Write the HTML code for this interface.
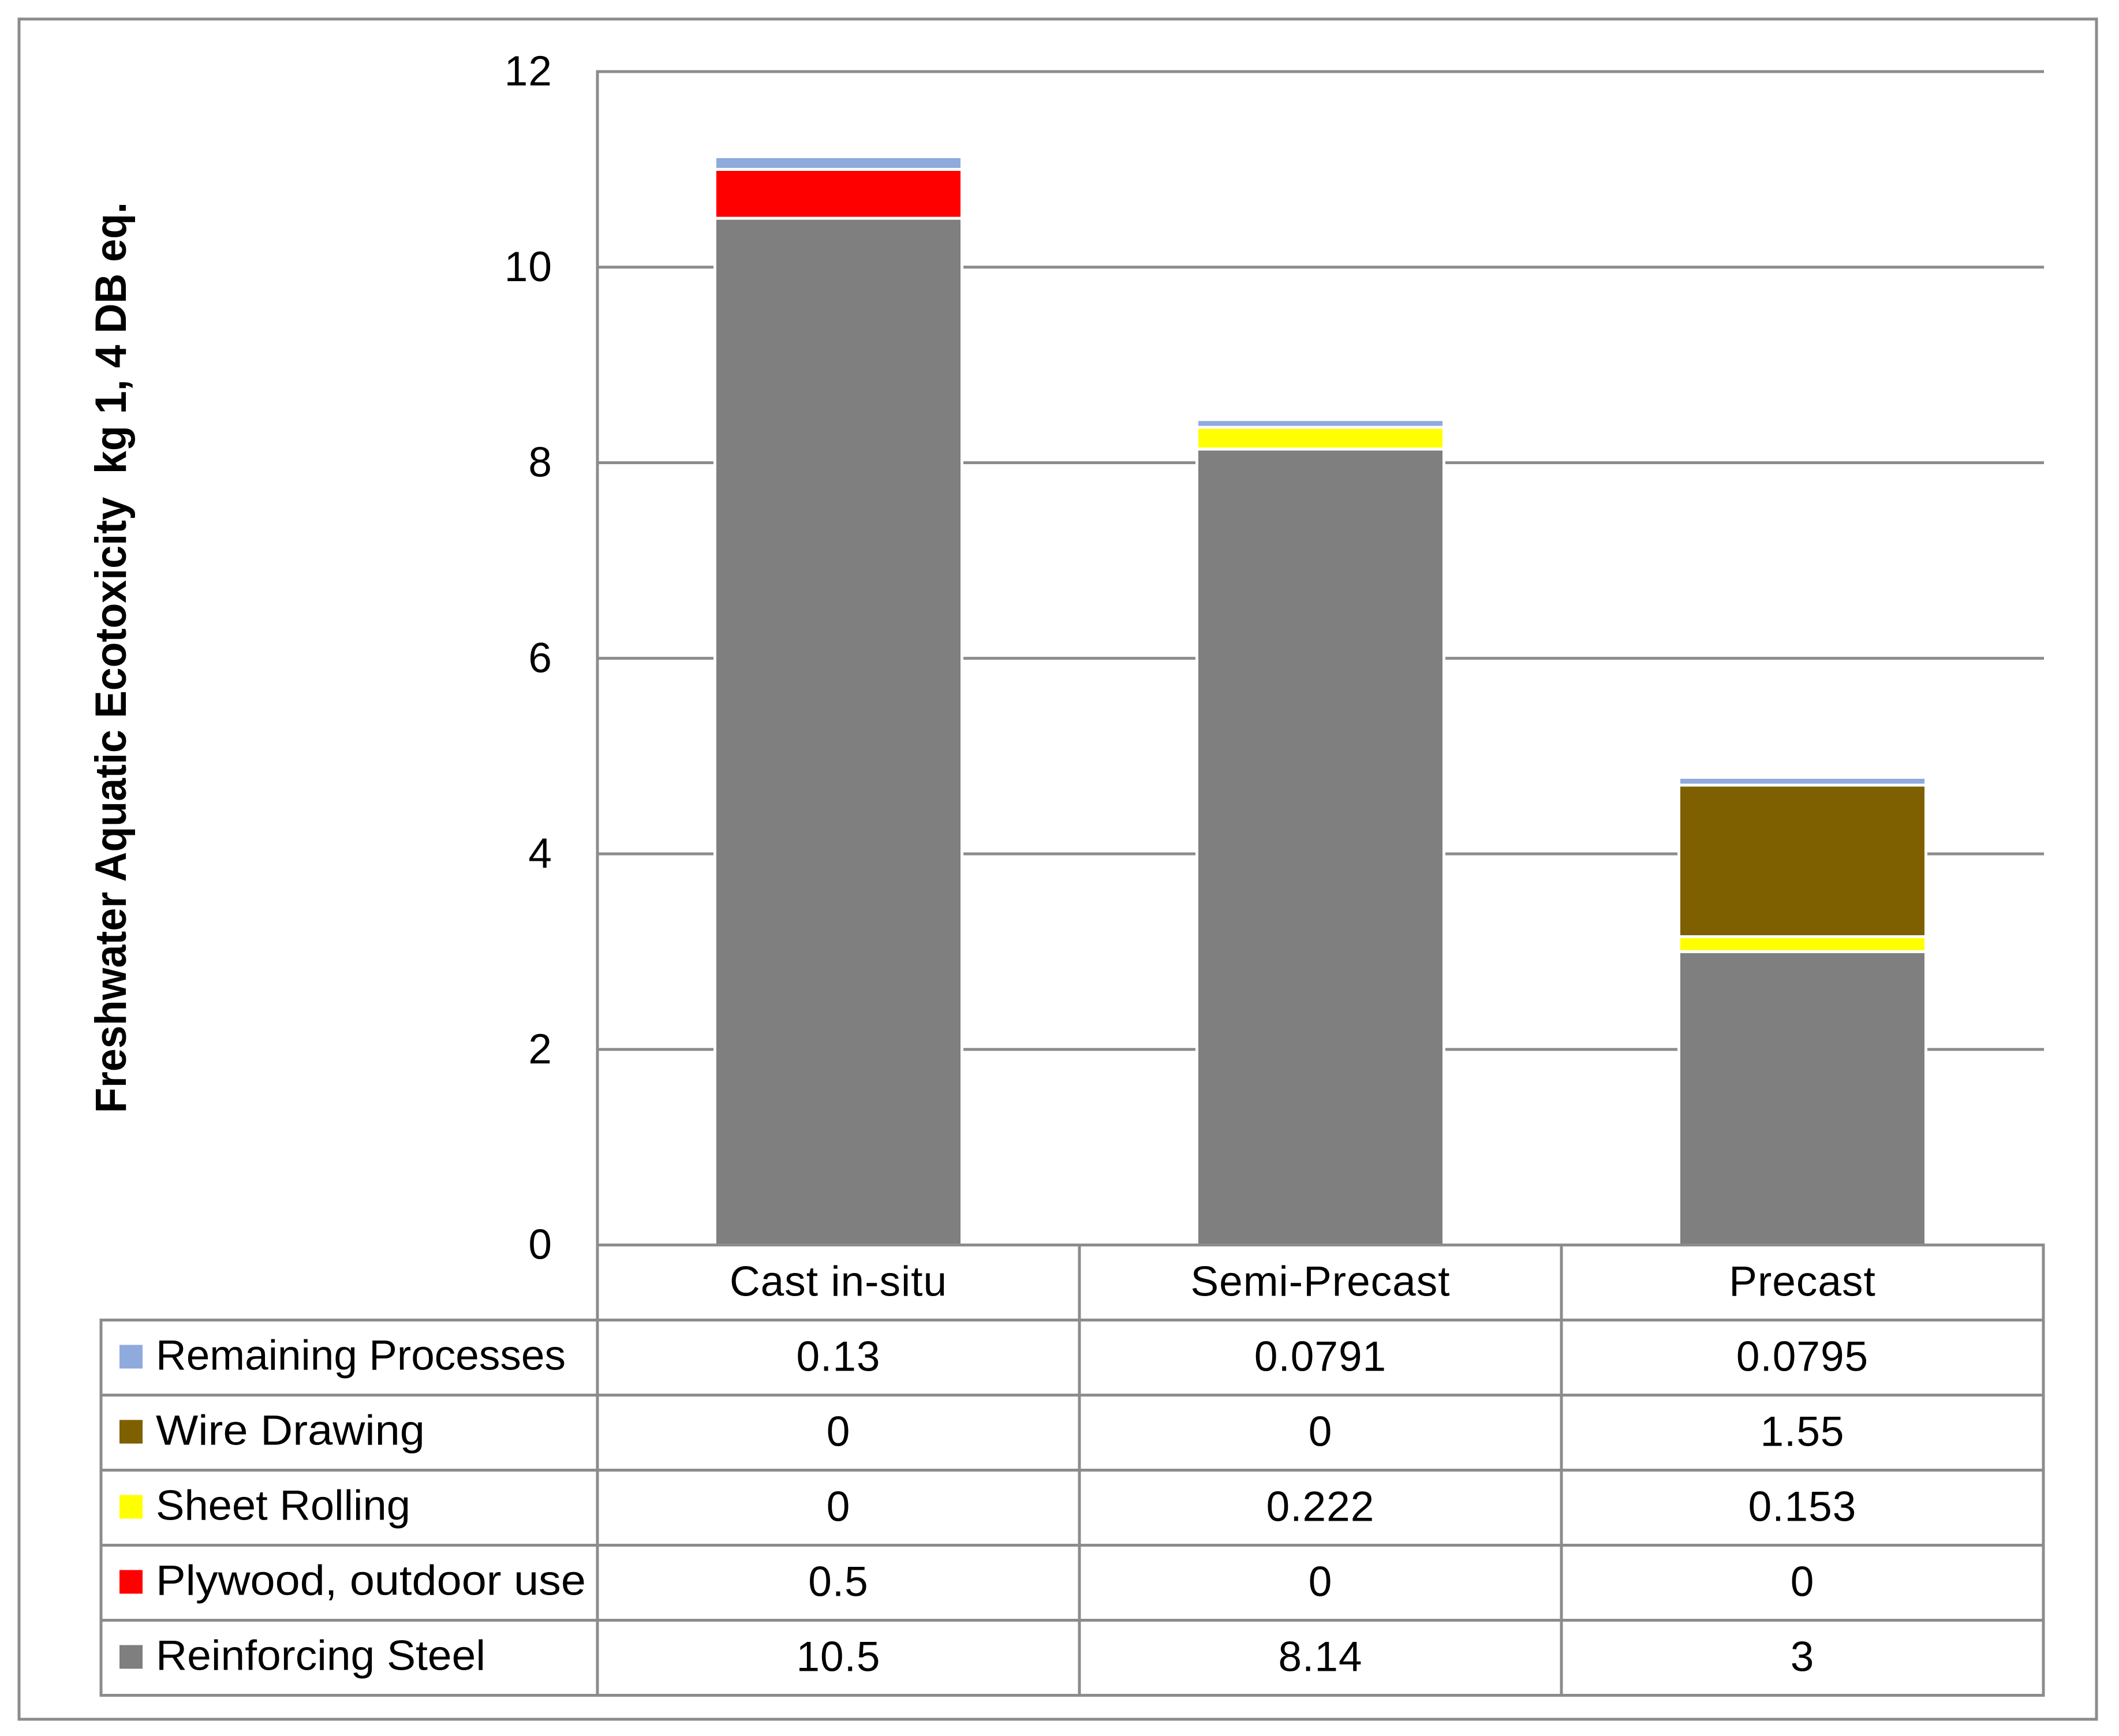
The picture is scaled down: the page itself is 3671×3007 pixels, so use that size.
<!DOCTYPE html>
<html lang="en">
<head>
<meta charset="utf-8">
<title>Freshwater Aquatic Ecotoxicity</title>
<style>
  html, body { margin: 0; padding: 0; background: #fff; }
  svg { display: block; }
  text { font-family: "Liberation Sans", "DejaVu Sans", sans-serif; fill: #000; }
  .lbl { font-size: 73px; }
  .val { letter-spacing: 1px; }
  .ttl { font-size: 76px; font-weight: bold; }
</style>
</head>
<body>
<svg id="chart" xmlns="http://www.w3.org/2000/svg" width="3671" height="3007" viewBox="0 0 3671 3007">
  <rect x="0" y="0" width="3671" height="3007" fill="#ffffff"/>
  <rect x="33" y="33" width="3599" height="2945" fill="#ffffff" stroke="#8c8c8c" stroke-width="5"/>
  <g id="grid"></g>
  <g id="bars"></g>
  <g id="ticks"></g>
  <g id="table"></g>
  <text class="ttl" transform="translate(218,1928) rotate(-90)" textLength="1578" lengthAdjust="spacingAndGlyphs" xml:space="preserve">Freshwater Aquatic Ecotoxicity  kg 1, 4 DB eq.</text>
</svg>
<script>
const categories = ["Cast in-situ", "Semi-Precast", "Precast"];
const tickValues = [0, 2, 4, 6, 8, 10, 12];
const seriesNames = ["Remaining Processes", "Wire Drawing", "Sheet Rolling", "Plywood, outdoor use", "Reinforcing Steel"];
const remainingProcesses = [0.13, 0.0791, 0.0795];
const wireDrawing = [0, 0, 1.55];
const sheetRolling = [0, 0.222, 0.153];
const plywoodOutdoorUse = [0.5, 0, 0];
const reinforcingSteel = [10.5, 8.14, 3];

const seriesValues = [remainingProcesses, wireDrawing, sheetRolling, plywoodOutdoorUse, reinforcingSteel];
const seriesColors = ["#8faadc", "#7f6000", "#ffff00", "#ff0000", "#7f7f7f"];
const legendTextLengths = [710, 466, 441, 745, 571];

const NS = "http://www.w3.org/2000/svg";
const LINE = "#8c8c8c";
const LW = 5;
const plotLeft = 1035, plotRight = 3540, legendLeft = 175;
const y0 = 2156.5, yTop = 124, yMax = 12;
const rowH = 130;
const colW = (plotRight - plotLeft) / categories.length;
const barW = 428;

function yScale(v) { return y0 - (v / yMax) * (y0 - yTop); }
function xCenter(i) { return plotLeft + colW * (i + 0.5); }

function make(parent, tag, attrs, txt) {
  const el = document.createElementNS(NS, tag);
  for (const k in attrs) el.setAttribute(k, attrs[k]);
  if (txt !== undefined) el.textContent = txt;
  parent.appendChild(el);
  return el;
}
function slug(s) { return String(s).toLowerCase().replace(/[^a-z0-9]+/g, "-").replace(/^-|-$/g, ""); }

const grid = document.getElementById("grid");
const bars = document.getElementById("bars");
const ticks = document.getElementById("ticks");
const table = document.getElementById("table");

tickValues.forEach(function (t) {
  const y = yScale(t);
  if (t !== 0) {
    const g = make(grid, "line", { x1: plotLeft, x2: plotRight + 1, y1: y, y2: y, stroke: LINE, "stroke-width": LW });
    
    
  }
  const lab = make(ticks, "text", { x: 957, y: y + 24, "text-anchor": "end", class: "lbl val" }, t);
  
  
});

categories.forEach(function (cat, c) {
  let acc = 0;
  for (let s = seriesValues.length - 1; s >= 0; s--) {
    const v = seriesValues[s][c];
    if (v === 0) continue;
    const top = yScale(acc + v), bot = yScale(acc);
    const r = make(bars, "rect", {
      x: xCenter(c) - barW / 2, y: top, width: barW, height: bot - top,
      fill: seriesColors[s], stroke: "#ffffff", "stroke-width": LW
    });
    
    
    acc += v;
  }
});

const axisLine = make(table, "line", { x1: plotLeft, x2: plotLeft, y1: yTop - 2.5, y2: y0 + rowH * (seriesNames.length + 1) + 2.5, stroke: LINE, "stroke-width": LW });



const baseLine = make(table, "line", { x1: plotLeft, x2: plotRight + 2.5, y1: y0, y2: y0, stroke: LINE, "stroke-width": LW });



for (let r = 1; r <= seriesNames.length + 1; r++) {
  const y = y0 + rowH * r;
  const h = make(table, "line", { x1: legendLeft - 2.5, x2: plotRight + 2.5, y1: y, y2: y, stroke: LINE, "stroke-width": LW });
  
  
}
const legendEdge = make(table, "line", { x1: legendLeft, x2: legendLeft, y1: y0 + rowH, y2: y0 + rowH * (seriesNames.length + 1), stroke: LINE, "stroke-width": LW });



for (let c = 1; c <= categories.length; c++) {
  const x = plotLeft + colW * c;
  const v = make(table, "line", { x1: x, x2: x, y1: y0, y2: y0 + rowH * (seriesNames.length + 1), stroke: LINE, "stroke-width": LW });
  
  
}

categories.forEach(function (cat, c) {
  const t = make(table, "text", { x: xCenter(c), y: y0 + rowH / 2 + 23, "text-anchor": "middle", class: "lbl val" }, cat);
  
  
});

seriesNames.forEach(function (name, s) {
  const cy = y0 + rowH * (s + 1) + rowH / 2;
  const sw = make(table, "rect", { x: 207, y: cy - 22, width: 40, height: 41, fill: seriesColors[s] });
  
  
  const lt = make(table, "text", { x: 270, y: cy + 21, class: "lbl", textLength: legendTextLengths[s], lengthAdjust: "spacingAndGlyphs" }, name);
  
  
  seriesValues[s].forEach(function (val, c) {
    const d = make(table, "text", { x: xCenter(c), y: cy + 23, "text-anchor": "middle", class: "lbl val" }, val);
    
    
  });
});
</script>
</body>
</html>
